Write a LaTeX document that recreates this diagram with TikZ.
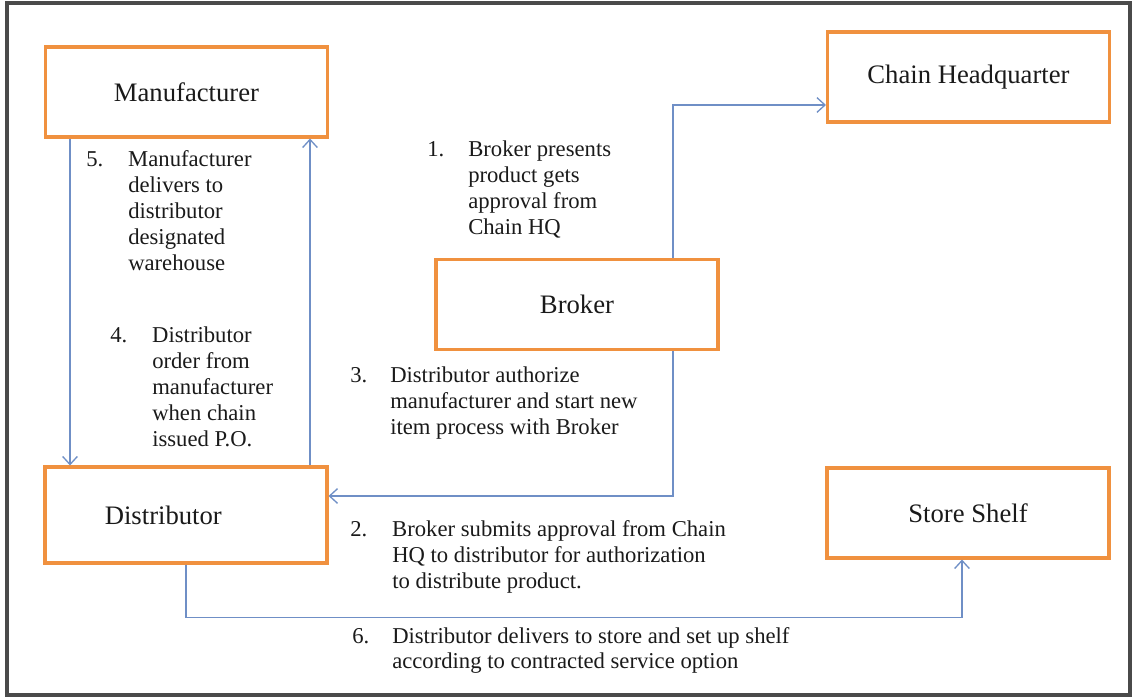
\documentclass[tikz,border=0pt]{standalone}
\usepackage{fontspec}
\setmainfont{Liberation Serif}
\usetikzlibrary{arrows.meta}
\definecolor{boxorange}{HTML}{F0913F}
\definecolor{linkblue}{HTML}{6F8FC6}
\definecolor{framegray}{HTML}{4A4A4A}
\definecolor{txt}{HTML}{1A1A1A}
\tikzset{
  x=0.75pt, y=-0.75pt,
  box/.style={draw=boxorange, line width=2.3pt, minimum width=211.5pt, minimum height=67.5pt,
    inner sep=0pt, text=txt, font=\fontsize{20}{24}\selectfont},
  arr/.style={draw=linkblue, line width=1pt, -{Straight Barb[length=6pt,width=11pt]}},
  lbl/.style={anchor=base west, inner sep=0pt, text=txt, font=\fontsize{17}{19.5}\selectfont},
  frame/.style={draw=framegray, line width=2.4pt}
}
\begin{document}
\begin{tikzpicture}
\useasboundingbox (0,0) rectangle (1133,698);
\draw[frame] (7,3) rectangle (1130,695);

\node[box] (manu)  at (186.5,92)  {Manufacturer};
\node[box] (chq)   at (968.5,77)  {Chain Headquarter};
\node[box] (broker) at (577,304.5) {Broker};
\node[box, minimum height=72pt] (dist) at (186,515) {Distributor\hspace*{34pt}};
\node[box] (store) at (968,513)  {Store Shelf};

\coordinate (xl) at (70,0);
\coordinate (xr) at (310,0);
\coordinate (xb) at (673,0);

\draw[arr] (manu.south -| xl) -- (dist.north -| xl);
\draw[arr] (dist.north -| xr) -- (manu.south -| xr);
\draw[arr] (broker.north -| xb) |- ([yshift=-21pt]chq.west);
\draw[arr] (broker.south -| xb) |- ([yshift=14.25pt]dist.east);
\draw[arr] (dist.south) -- ++(0,53) -| ([xshift=-4.5pt]store.south);

\node[lbl] (l5) at (86,167) {\begin{tabular}[t]{@{}p{31.5pt}@{}l@{}}5.&Manufacturer\\&delivers to\\&distributor\\&designated\\&warehouse\end{tabular}};
\node[lbl] (l4) at (110,343) {\begin{tabular}[t]{@{}p{31.5pt}@{}l@{}}4.&Distributor\\&order from\\&manufacturer\\&when chain\\&issued P.O.\end{tabular}};
\node[lbl] (l1) at (427,157) {\begin{tabular}[t]{@{}p{30.75pt}@{}l@{}}1.&Broker presents\\&product gets\\&approval from\\&Chain HQ\end{tabular}};
\node[lbl] (l3) at (350,383) {\begin{tabular}[t]{@{}p{30pt}@{}l@{}}3.&Distributor authorize\\&manufacturer and start new\\&item process with Broker\end{tabular}};
\node[lbl] (l2) at (350,537) {\begin{tabular}[t]{@{}p{31.5pt}@{}l@{}}2.&Broker submits approval from Chain\\&HQ to distributor for authorization\\&to distribute product.\end{tabular}};
\node[lbl] (l6) at (352,643) {\begin{tabular}[t]{@{}p{30pt}@{}l@{}}6.&Distributor delivers to store and set up shelf\\&according to contracted service option\end{tabular}};
\end{tikzpicture}
\end{document}
